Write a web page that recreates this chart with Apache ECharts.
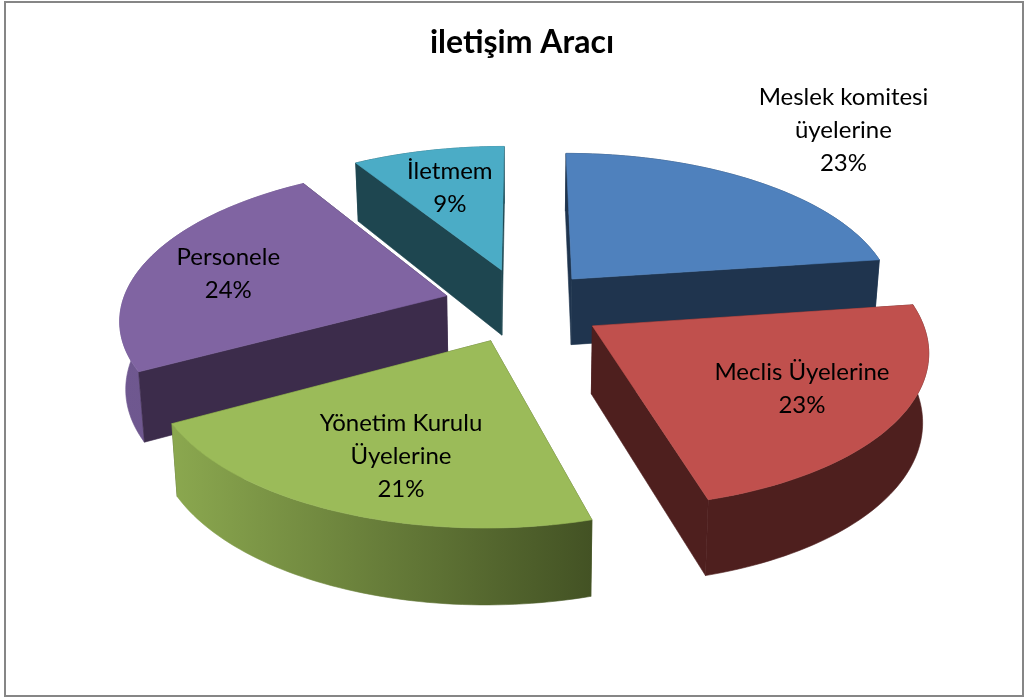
<!DOCTYPE html>
<html>
<head>
<meta charset="utf-8">
<title>iletişim Aracı</title>
<style>html,body{margin:0;padding:0;background:#fff}#c{width:1027px;height:699px}</style>
<script src="https://cdn.jsdelivr.net/npm/echarts@6/dist/echarts.min.js"></script>
</head>
<body>
<div id="c"></div>
<script>
const chartTitle = 'iletişim Aracı';
const categories = ['Meslek komitesi\nüyelerine', 'Meclis Üyelerine', 'Yönetim Kurulu\nÜyelerine', 'Personele', 'İletmem'];
const values = [22.8, 22.8, 21.4, 24.2, 8.8];
const topColors = ['#4F81BD', '#C0504D', '#9BBB59', '#8064A2', '#4BACC6'];
const wallColors = ['#1F344E', '#4E1F1E', '#4A5A27', '#3C2C4B', '#1E4650'];
const arcStart = ['#2A4668', '#4E1F1E', '#8BA84F', '#6B5488', '#2E6E80'];
const arcEnd = ['#1F344E', '#4E1F1E', '#435224', '#6F5890', '#1E4650'];
const explodeBy = [0.235, 0.25, 0.25, 0.245, 0.25];
// label anchors in disk units (1 = one pie radius from the pie centre)
const labelU = [1.178, 0.796, -0.329, -0.934, -0.253];
const labelV = [-1.391, 0.519, 0.883, -0.215, -0.88];

const P = { cx: 523, cy: 305, a: 325, b: 150, k: 0.14, depth: 67, depthK: 0.12, shrink: 0.985 };
const total = values.reduce((s, v) => s + v, 0);

function project(u, v) {
  const w = 1 / (1 - P.k * v);
  return [P.cx + P.a * u * w, P.cy + P.b * v * w];
}
function drop(pt, v) {
  return [P.cx + (pt[0] - P.cx) * P.shrink, pt[1] + P.depth * (1 + P.depthK * v)];
}
const slices = [];
let acc = 0;
values.forEach((val, i) => {
  const t0 = acc / total * 2 * Math.PI;
  acc += val;
  const t1 = acc / total * 2 * Math.PI;
  const tm = (t0 + t1) / 2;
  slices.push({ t0, t1, ou: explodeBy[i] * Math.sin(tm), ov: -explodeBy[i] * Math.cos(tm) });
});
const order = slices.map((s, i) => i).sort((p, q) => slices[p].ov - slices[q].ov);

function poly(points, fill, z2) {
  return { type: 'polygon', shape: { points }, z2, silent: true,
    style: { fill, stroke: fill, lineWidth: 0.6 } };
}
function renderItem(params, api) {
  const i = params.dataIndex;
  const s = slices[i];
  const rank = order.indexOf(i) * 10;
  const rimDisk = [];
  const n = 60;
  for (let j = 0; j <= n; j++) {
    const t = s.t0 + (s.t1 - s.t0) * j / n;
    rimDisk.push([s.ou + Math.sin(t), s.ov - Math.cos(t)]);
  }
  const rim = rimDisk.map(d => project(d[0], d[1]));
  const rimLow = rim.map((p, j) => drop(p, rimDisk[j][1]));
  const apex = project(s.ou, s.ov);
  const apexLow = drop(apex, s.ov);
  const last = rim.length - 1;
  const walls = [
    { y: (apex[1] + rim[0][1]) / 2, pts: [apex, rim[0], rimLow[0], apexLow], fill: wallColors[i] },
    { y: (apex[1] + rim[last][1]) / 2, pts: [apex, rim[last], rimLow[last], apexLow], fill: wallColors[i] },
    { y: rim.reduce((t, p) => t + p[1], 0) / rim.length, pts: rim.concat(rimLow.slice().reverse()),
      fill: { type: 'linear', x: i === 2 ? 0 : 1, y: 0, x2: i === 2 ? 1 : 0, y2: 0, colorStops: [
        { offset: 0, color: arcStart[i] }, { offset: 1, color: arcEnd[i] }] } }
  ].sort((p, q) => p.y - q.y);
  const children = walls.map((w, j) => poly(w.pts, w.fill, rank + j));
  children.push(poly([apex].concat(rim), topColors[i], rank + 5));
  const lp = project(labelU[i], labelV[i]);
  children.push({ type: 'text', z2: 200, silent: true, style: {
    x: lp[0], y: lp[1], text: categories[i] + '\n' + Math.round(api.value(0) / total * 100) + '%',
    fill: '#000', font: '24px Lato', lineHeight: 33, align: 'center', verticalAlign: 'middle' } });
  return { type: 'group', children };
}
const chart = echarts.init(document.getElementById('c'), null, { renderer: 'canvas' });
chart.setOption({
  animation: false,
  backgroundColor: '#fff',
  title: { text: chartTitle, left: 517, top: 22, textAlign: 'center',
    textStyle: { fontFamily: 'Lato', fontWeight: 'bold', fontSize: 32, color: '#000' } },
  graphic: [{ type: 'rect', silent: true, z: -1,
    shape: { x: 5, y: 2, width: 1018, height: 694 },
    style: { fill: 'none', stroke: '#868686', lineWidth: 2 } }],
  series: [{ type: 'custom', coordinateSystem: 'none', renderItem, data: values.map(v => [v]) }]
});
</script>
</body>
</html>
